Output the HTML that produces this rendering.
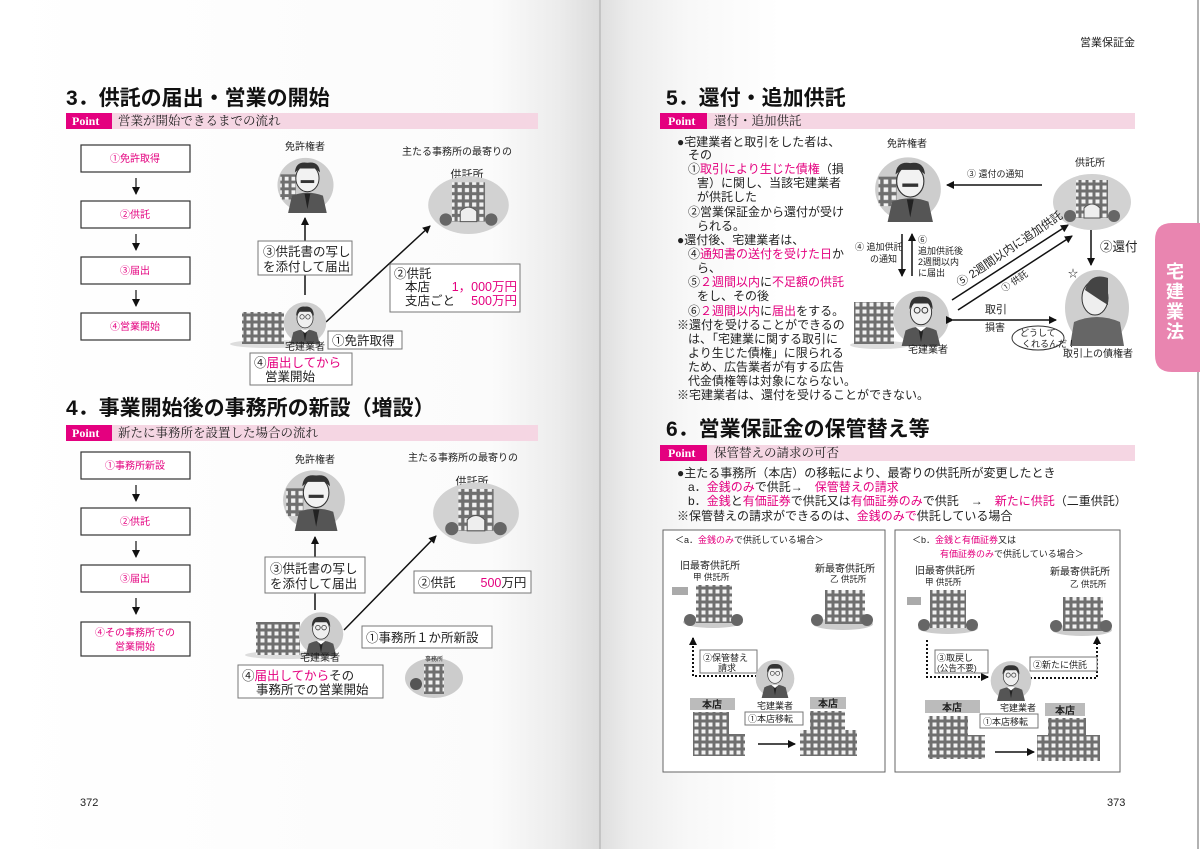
<!DOCTYPE html>
<html><head><meta charset="utf-8"><style>
html,body{margin:0;padding:0;background:#fff}
svg{display:block}
text{font-family:"Liberation Sans","Noto Sans CJK JP",sans-serif;fill:#222}
.t{font-size:21px;font-weight:bold;fill:#111}
.b{font-size:12.5px}
.s{font-size:10px}
.p{fill:#e4007f}
.pt{font-family:"Liberation Serif","Noto Serif CJK SC",serif;font-size:12px;font-weight:bold;fill:#fff}
.ps{font-family:"Liberation Serif","Noto Serif CJK SC",serif;font-size:12.5px;fill:#222}
.fb{fill:#fff;stroke:#333;stroke-width:1.2}
.lb{fill:#fff;stroke:#777;stroke-width:1}
</style></head><body>
<svg width="1200" height="849" viewBox="0 0 1200 849" xmlns="http://www.w3.org/2000/svg">
<defs>
<linearGradient id="gl" x1="0" x2="1"><stop offset="0" stop-color="#fff"/><stop offset="0.82" stop-color="#fbfbfb"/><stop offset="0.93" stop-color="#ececec"/><stop offset="1" stop-color="#dcdcdc"/></linearGradient>
<linearGradient id="gr" x1="0" x2="1"><stop offset="0" stop-color="#dedede"/><stop offset="0.05" stop-color="#ececec"/><stop offset="0.15" stop-color="#f8f8f8"/><stop offset="0.3" stop-color="#fff"/><stop offset="1" stop-color="#fff"/></linearGradient>
<pattern id="win" width="7" height="7" patternUnits="userSpaceOnUse"><rect width="7" height="7" fill="#6f6f6f"/><rect x="1.5" y="1.5" width="4" height="4" fill="#f2f2f2"/></pattern>
<marker id="ah" markerWidth="8" markerHeight="8" refX="7" refY="4" orient="auto" markerUnits="userSpaceOnUse"><path d="M0,0 L8,4 L0,8 Z" fill="#111"/></marker>
<symbol id="person" viewBox="0 0 60 60">
<ellipse cx="30" cy="31" rx="29" ry="28" fill="#cdcdcd"/>
<path d="M10 60 L14 44 Q30 36 46 44 L50 60Z" fill="#555"/>
<path d="M27 40 L30 56 L33 40Z" fill="#222"/><path d="M24 40 L30 45 L36 40Z" fill="#fff"/>
<ellipse cx="30" cy="25" rx="11" ry="13" fill="#efefef" stroke="#333"/>
<path d="M18 22 Q18 8 30 9 Q42 8 42 22 L38 16 L22 16Z" fill="#333"/>
<circle cx="26" cy="23" r="3" fill="none" stroke="#333"/><circle cx="34" cy="23" r="3" fill="none" stroke="#333"/>
</symbol>
<symbol id="kyo" viewBox="0 0 80 60">
<ellipse cx="40" cy="32" rx="39" ry="28" fill="#d2d2d2"/>
<rect x="24" y="10" width="32" height="38" fill="url(#win)"/>
<path d="M32 48 V38 Q40 30 48 38 V48Z" fill="#eee" stroke="#555"/>
<circle cx="18" cy="46" r="6" fill="#666"/><circle cx="62" cy="46" r="6" fill="#666"/>
</symbol>
<symbol id="boss" viewBox="0 0 60 60">
<ellipse cx="30" cy="31" rx="29" ry="28" fill="#cdcdcd"/>
<rect x="4" y="20" width="16" height="26" fill="url(#win)"/>
<path d="M12 60 L16 42 Q32 36 48 42 L52 60Z" fill="#555"/>
<path d="M29 40 L32 56 L35 40Z" fill="#222"/>
<ellipse cx="32" cy="24" rx="12" ry="14" fill="#f2f2f2" stroke="#333"/>
<path d="M19 18 Q20 6 32 8 Q44 6 45 18 L40 14 L24 14Z" fill="#333"/>
<path d="M25 26 h14 v3 h-14z" fill="#333"/>
</symbol>
</defs>
<rect x="0" y="0" width="600" height="849" fill="url(#gl)"/>
<rect x="600" y="0" width="600" height="849" fill="url(#gr)"/>
<line x1="600" y1="0" x2="600" y2="849" stroke="#aaa" stroke-width="1"/>
<line x1="1198" y1="0" x2="1198" y2="849" stroke="#999" stroke-width="1.5"/>
<text x="1080" y="46" class="s" style="font-size:11px">営業保証金</text>
<path d="M1172 223 H1200 V372 H1172 Q1155 372 1155 355 V240 Q1155 223 1172 223Z" fill="#e985b0"/>
<text x="1175" y="278" style="font-size:18px;font-weight:bold;fill:#fff" text-anchor="middle">宅</text>
<text x="1175" y="298" style="font-size:18px;font-weight:bold;fill:#fff" text-anchor="middle">建</text>
<text x="1175" y="318" style="font-size:18px;font-weight:bold;fill:#fff" text-anchor="middle">業</text>
<text x="1175" y="338" style="font-size:18px;font-weight:bold;fill:#fff" text-anchor="middle">法</text>

<!-- Section 3 -->
<text x="66" y="105" class="t">3．供託の届出・営業の開始</text>
<rect x="66" y="113" width="472" height="16" fill="#f5d6e3"/><rect x="66" y="113" width="46" height="16" fill="#e4007f"/>
<text x="72" y="125" class="pt">Point</text><text x="118" y="125" class="ps">営業が開始できるまでの流れ</text>
<rect x="81" y="145" width="109" height="27" class="fb"/><text x="135" y="162" text-anchor="middle" class="s p">①免許取得</text>
<rect x="81" y="201" width="109" height="27" class="fb"/><text x="135" y="218" text-anchor="middle" class="s p">②供託</text>
<rect x="81" y="257" width="109" height="27" class="fb"/><text x="135" y="274" text-anchor="middle" class="s p">③届出</text>
<rect x="81" y="313" width="109" height="27" class="fb"/><text x="135" y="330" text-anchor="middle" class="s p">④営業開始</text>
<g stroke="#111" stroke-width="1.2" marker-end="url(#ah)"><line x1="136" y1="178" x2="136" y2="194"/><line x1="136" y1="234" x2="136" y2="250"/><line x1="136" y1="290" x2="136" y2="306"/></g>
<text x="305" y="150" class="s" text-anchor="middle">免許権者</text>
<use href="#boss" x="273" y="155" width="65" height="58"/>
<text x="457" y="155" class="s" text-anchor="middle">主たる事務所の最寄りの</text>
<text x="467" y="178" class="s" text-anchor="middle" style="font-size:11px">供託所</text>
<use href="#kyo" x="427" y="172" width="83" height="62"/>
<line x1="305" y1="295" x2="305" y2="218" stroke="#111" stroke-width="1.5" marker-end="url(#ah)"/>
<line x1="326" y1="322" x2="430" y2="226" stroke="#111" stroke-width="1.5" marker-end="url(#ah)"/>
<rect x="258" y="241" width="94" height="34" class="lb"/>
<text x="263" y="256" class="b">③供託書の写し</text><text x="263" y="271" class="b">を添付して届出</text>
<rect x="390" y="264" width="130" height="48" class="lb"/>
<text x="394" y="278" class="b">②供託</text>
<text x="405" y="291" class="b">本店</text><text x="517" y="291" class="b p" text-anchor="end">1，000万円</text>
<text x="405" y="305" class="b">支店ごと</text><text x="517" y="305" class="b p" text-anchor="end">500万円</text>
<ellipse cx="270" cy="344" rx="40" ry="4" fill="#ddd"/>
<rect x="242" y="312" width="42" height="32" fill="url(#win)"/>
<use href="#person" x="283" y="300" width="44" height="44"/>
<text x="305" y="350" class="s" text-anchor="middle">宅建業者</text>
<rect x="328" y="331" width="74" height="18" class="lb"/><text x="332" y="345" class="b">①免許取得</text>
<rect x="250" y="353" width="102" height="32" class="lb"/>
<text x="254" y="367" class="b"><tspan>④</tspan><tspan class="p">届出してから</tspan></text><text x="265" y="381" class="b">営業開始</text>

<!-- Section 4 -->
<text x="66" y="415" class="t">4．事業開始後の事務所の新設（増設）</text>
<rect x="66" y="425" width="472" height="16" fill="#f5d6e3"/><rect x="66" y="425" width="46" height="16" fill="#e4007f"/>
<text x="72" y="437" class="pt">Point</text><text x="118" y="437" class="ps">新たに事務所を設置した場合の流れ</text>
<rect x="81" y="452" width="109" height="27" class="fb"/><text x="135" y="469" text-anchor="middle" class="s p">①事務所新設</text>
<rect x="81" y="508" width="109" height="27" class="fb"/><text x="135" y="525" text-anchor="middle" class="s p">②供託</text>
<rect x="81" y="565" width="109" height="27" class="fb"/><text x="135" y="582" text-anchor="middle" class="s p">③届出</text>
<rect x="81" y="622" width="109" height="34" class="fb"/><text x="135" y="636" text-anchor="middle" class="s p">④その事務所での</text><text x="135" y="650" text-anchor="middle" class="s p">営業開始</text>
<g stroke="#111" stroke-width="1.2" marker-end="url(#ah)"><line x1="136" y1="485" x2="136" y2="501"/><line x1="136" y1="541" x2="136" y2="557"/><line x1="136" y1="598" x2="136" y2="614"/></g>
<text x="315" y="463" class="s" text-anchor="middle">免許権者</text>
<use href="#boss" x="281" y="467" width="66" height="64"/>
<text x="463" y="461" class="s" text-anchor="middle">主たる事務所の最寄りの</text>
<text x="472" y="485" class="s" text-anchor="middle" style="font-size:11px">供託所</text>
<use href="#kyo" x="432" y="478" width="88" height="66"/>
<line x1="315" y1="610" x2="315" y2="537" stroke="#111" stroke-width="1.5" marker-end="url(#ah)"/>
<line x1="344" y1="630" x2="436" y2="536" stroke="#111" stroke-width="1.5" marker-end="url(#ah)"/>
<rect x="265" y="557" width="100" height="36" class="lb"/>
<text x="270" y="573" class="b">③供託書の写し</text><text x="270" y="588" class="b">を添付して届出</text>
<rect x="414" y="571" width="117" height="22" class="lb"/><text x="418" y="587" class="b">②供託　　<tspan class="p">500</tspan>万円</text>
<ellipse cx="285" cy="655" rx="40" ry="4" fill="#ddd"/>
<rect x="256" y="622" width="44" height="33" fill="url(#win)"/>
<use href="#person" x="298" y="610" width="46" height="46"/>
<text x="320" y="661" class="s" text-anchor="middle">宅建業者</text>
<rect x="362" y="626" width="130" height="22" class="lb"/><text x="366" y="642" class="b">①事務所１か所新設</text>
<ellipse cx="434" cy="678" rx="29" ry="20" fill="#ccc"/>
<text x="434" y="661" class="s" text-anchor="middle" style="font-size:6px">事務所</text>
<rect x="424" y="664" width="20" height="30" fill="url(#win)"/><circle cx="416" cy="684" r="6" fill="#555"/>
<rect x="238" y="665" width="145" height="33" class="lb"/>
<text x="242" y="680" class="b">④<tspan class="p">届出してから</tspan>その</text><text x="256" y="694" class="b">事務所での営業開始</text>
<text x="80" y="806" style="font-size:11px">372</text>

<!-- Section 5 -->
<text x="666" y="105" class="t">5．還付・追加供託</text>
<rect x="660" y="113" width="475" height="16" fill="#f5d6e3"/><rect x="660" y="113" width="47" height="16" fill="#e4007f"/>
<text x="668" y="125" class="pt">Point</text><text x="714" y="125" class="ps">還付・追加供託</text>
<g class="b" style="font-size:12px">
<text x="677" y="146">●宅建業者と取引をした者は、</text>
<text x="688" y="159">その</text>
<text x="688" y="173">①<tspan class="p">取引により生じた債権</tspan>（損</text>
<text x="697" y="187">害）に関し、当該宅建業者</text>
<text x="697" y="201">が供託した</text>
<text x="688" y="216">②営業保証金から還付が受け</text>
<text x="697" y="230">られる。</text>
<text x="677" y="244">●還付後、宅建業者は、</text>
<text x="688" y="258">④<tspan class="p">通知書の送付を受けた日</tspan>か</text>
<text x="697" y="272">ら、</text>
<text x="688" y="286">⑤<tspan class="p">２週間以内</tspan>に<tspan class="p">不足額の供託</tspan></text>
<text x="697" y="300">をし、その後</text>
<text x="688" y="315">⑥<tspan class="p">２週間以内</tspan>に<tspan class="p">届出</tspan>をする。</text>
<text x="677" y="329">※還付を受けることができるの</text>
<text x="688" y="343">は、「宅建業に関する取引に</text>
<text x="688" y="357">より生じた債権」に限られる</text>
<text x="688" y="371">ため、広告業者が有する広告</text>
<text x="688" y="385">代金債権等は対象にならない。</text>
<text x="677" y="399">※宅建業者は、還付を受けることができない。</text>
</g>
<text x="907" y="147" class="s" text-anchor="middle">免許権者</text>
<use href="#boss" x="874" y="150" width="68" height="76"/>
<text x="1090" y="166" class="s" text-anchor="middle">供託所</text>
<use href="#kyo" x="1052" y="168" width="80" height="64"/>
<line x1="1042" y1="185" x2="947" y2="185" stroke="#111" stroke-width="1.5" marker-end="url(#ah)"/>
<text x="967" y="177" class="s" style="font-size:9px">③ 還付の通知</text>
<line x1="902" y1="234" x2="902" y2="276" stroke="#111" stroke-width="1.5" marker-end="url(#ah)"/>
<line x1="912" y1="276" x2="912" y2="234" stroke="#111" stroke-width="1.5" marker-end="url(#ah)"/>
<text x="855" y="250" class="s" style="font-size:9px">④ 追加供託</text><text x="870" y="262" class="s" style="font-size:9px">の通知</text>
<text x="918" y="243" class="s" style="font-size:9px">⑥</text>
<text x="918" y="254" class="s" style="font-size:9px">追加供託後</text><text x="918" y="265" class="s" style="font-size:9px">2週間以内</text><text x="918" y="276" class="s" style="font-size:9px">に届出</text>
<ellipse cx="880" cy="345" rx="30" ry="4" fill="#ddd"/>
<rect x="854" y="302" width="40" height="42" fill="url(#win)"/>
<use href="#person" x="892" y="288" width="58" height="58"/>
<text x="928" y="353" class="s" text-anchor="middle">宅建業者</text>
<line x1="952" y1="300" x2="1068" y2="225" stroke="#111" stroke-width="1.5" marker-end="url(#ah)"/>
<line x1="958" y1="310" x2="1072" y2="236" stroke="#111" stroke-width="1.5" marker-end="url(#ah)"/>
<text transform="translate(960,287) rotate(-34)" class="b" style="font-size:11.5px">⑤ 2週間以内に追加供託</text>
<text transform="translate(1004,292) rotate(-34)" class="s" style="font-size:9px">① 供託</text>
<line x1="1091" y1="230" x2="1091" y2="265" stroke="#111" stroke-width="1.5" marker-end="url(#ah)"/>
<text x="1100" y="251" class="b">②還付</text>
<ellipse cx="1097" cy="308" rx="32" ry="38" fill="#cfcfcf"/>
<path d="M1070 346 L1074 322 Q1097 312 1120 322 L1124 346Z" fill="#666"/>
<ellipse cx="1095" cy="298" rx="13" ry="17" fill="#eee" stroke="#333"/>
<path d="M1085 290 Q1090 272 1108 278 L1108 305 L1100 300Z" fill="#444"/>
<text x="1068" y="277" class="s">☆</text>
<line x1="953" y1="320" x2="1056" y2="320" stroke="#111" stroke-width="1.5" marker-start="url(#ah)" marker-end="url(#ah)"/>
<text x="985" y="313" class="b" style="font-size:11px">取引</text><text x="985" y="331" class="s">損害</text>
<ellipse cx="1038" cy="338" rx="26" ry="12" fill="#fff" stroke="#333"/>
<text x="1020" y="336" class="s" style="font-size:9px">どうして</text><text x="1022" y="347" class="s" style="font-size:9px">くれるんだ！</text>
<text x="1098" y="357" class="s" text-anchor="middle">取引上の債権者</text>

<!-- Section 6 -->
<text x="666" y="436" class="t">6．営業保証金の保管替え等</text>
<rect x="660" y="445" width="475" height="16" fill="#f5d6e3"/><rect x="660" y="445" width="47" height="16" fill="#e4007f"/>
<text x="668" y="457" class="pt">Point</text><text x="714" y="457" class="ps">保管替えの請求の可否</text>
<g class="b" style="font-size:12px">
<text x="677" y="477">●主たる事務所（本店）の移転により、最寄りの供託所が変更したとき</text>
<text x="688" y="491">a．<tspan class="p">金銭のみ</tspan>で供託→　<tspan class="p">保管替えの請求</tspan></text>
<text x="688" y="505">b．<tspan class="p">金銭</tspan>と<tspan class="p">有価証券</tspan>で供託又は<tspan class="p">有価証券のみ</tspan>で供託　→　<tspan class="p">新たに供託</tspan>（二重供託）</text>
<text x="677" y="520">※保管替えの請求ができるのは、<tspan class="p">金銭のみで</tspan>供託している場合</text>
</g>
<rect x="663" y="530" width="222" height="242" fill="#fff" stroke="#666"/>
<rect x="895" y="530" width="225" height="242" fill="#fff" stroke="#666"/>
<!-- box a -->
<text x="675" y="543" class="s" style="font-size:9px">＜a．<tspan class="p">金銭のみ</tspan>で供託している場合＞</text>
<text x="680" y="569" class="s">旧最寄供託所</text><text x="693" y="580" class="s" style="font-size:8.5px">甲 供託所</text>
<rect x="672" y="587" width="16" height="8" fill="#aaa"/>
<ellipse cx="713" cy="622" rx="30" ry="6" fill="#ccc"/>
<rect x="696" y="585" width="36" height="38" fill="url(#win)"/><circle cx="690" cy="620" r="6" fill="#666"/><circle cx="737" cy="620" r="6" fill="#666"/>
<text x="815" y="572" class="s">新最寄供託所</text><text x="830" y="582" class="s" style="font-size:8.5px">乙 供託所</text>
<ellipse cx="843" cy="624" rx="30" ry="6" fill="#ccc"/>
<rect x="825" y="590" width="40" height="34" fill="url(#win)"/><circle cx="817" cy="620" r="6" fill="#666"/><circle cx="867" cy="620" r="6" fill="#666"/>
<path d="M757 676 H693 V638" fill="none" stroke="#111" stroke-width="2" stroke-dasharray="2,2" marker-end="url(#ah)"/>
<rect x="700" y="650" width="57" height="23" class="lb"/><text x="703" y="661" class="s" style="font-size:9px">②保管替え</text><text x="718" y="671" class="s" style="font-size:9px">請求</text>
<use href="#person" x="755" y="655" width="40" height="46"/>
<text x="775" y="709" class="s" text-anchor="middle" style="font-size:9px">宅建業者</text>
<rect x="690" y="698" width="45" height="12" fill="#bbb"/><text x="712" y="708" class="s" text-anchor="middle" style="font-weight:bold">本店</text>
<rect x="693" y="712" width="36" height="44" fill="url(#win)"/><rect x="729" y="734" width="16" height="22" fill="url(#win)"/>
<rect x="745" y="712" width="58" height="13" class="lb"/><text x="748" y="722" class="s" style="font-size:9px">①本店移転</text>
<line x1="758" y1="744" x2="795" y2="744" stroke="#111" stroke-width="1.5" marker-end="url(#ah)"/>
<rect x="810" y="697" width="36" height="12" fill="#bbb"/><text x="828" y="707" class="s" text-anchor="middle" style="font-weight:bold">本店</text>
<rect x="810" y="711" width="35" height="45" fill="url(#win)"/><rect x="800" y="730" width="10" height="26" fill="url(#win)"/><rect x="845" y="730" width="12" height="26" fill="url(#win)"/>
<!-- box b -->
<text x="912" y="543" class="s" style="font-size:9px">＜b．<tspan class="p">金銭と有価証券</tspan>又は</text>
<text x="940" y="557" class="s" style="font-size:9px"><tspan class="p">有価証券のみ</tspan>で供託している場合＞</text>
<text x="915" y="574" class="s">旧最寄供託所</text><text x="925" y="585" class="s" style="font-size:8.5px">甲 供託所</text>
<rect x="907" y="597" width="14" height="8" fill="#aaa"/>
<ellipse cx="948" cy="628" rx="30" ry="6" fill="#ccc"/>
<rect x="930" y="590" width="36" height="38" fill="url(#win)"/><circle cx="924" cy="625" r="6" fill="#666"/><circle cx="972" cy="625" r="6" fill="#666"/>
<text x="1050" y="575" class="s">新最寄供託所</text><text x="1070" y="587" class="s" style="font-size:8.5px">乙 供託所</text>
<ellipse cx="1082" cy="630" rx="30" ry="6" fill="#ccc"/>
<rect x="1063" y="597" width="40" height="34" fill="url(#win)"/><circle cx="1056" cy="626" r="6" fill="#666"/><circle cx="1106" cy="626" r="6" fill="#666"/>
<path d="M927 640 V677 H988" fill="none" stroke="#111" stroke-width="2" stroke-dasharray="2,2" marker-end="url(#ah)"/>
<path d="M1030 678 H1097 V637" fill="none" stroke="#111" stroke-width="2" stroke-dasharray="2,2" marker-end="url(#ah)"/>
<rect x="935" y="650" width="53" height="23" class="lb"/><text x="937" y="661" class="s" style="font-size:9px">③取戻し</text><text x="937" y="671" class="s" style="font-size:8.5px">(公告不要)</text>
<rect x="1030" y="657" width="67" height="14" class="lb"/><text x="1033" y="668" class="s" style="font-size:9px">②新たに供託</text>
<use href="#person" x="990" y="655" width="42" height="50"/>
<text x="1018" y="711" class="s" text-anchor="middle" style="font-size:9px">宅建業者</text>
<rect x="925" y="700" width="55" height="13" fill="#bbb"/><text x="952" y="711" class="s" text-anchor="middle" style="font-weight:bold">本店</text>
<rect x="928" y="716" width="40" height="43" fill="url(#win)"/><rect x="968" y="735" width="17" height="24" fill="url(#win)"/>
<rect x="980" y="714" width="58" height="14" class="lb"/><text x="983" y="725" class="s" style="font-size:9px">①本店移転</text>
<line x1="995" y1="752" x2="1034" y2="752" stroke="#111" stroke-width="1.5" marker-end="url(#ah)"/>
<rect x="1045" y="703" width="40" height="13" fill="#bbb"/><text x="1065" y="714" class="s" text-anchor="middle" style="font-weight:bold">本店</text>
<rect x="1048" y="718" width="38" height="43" fill="url(#win)"/><rect x="1037" y="735" width="11" height="26" fill="url(#win)"/><rect x="1086" y="735" width="14" height="26" fill="url(#win)"/>
<text x="1107" y="806" style="font-size:11px">373</text>
</svg>
</body></html>
